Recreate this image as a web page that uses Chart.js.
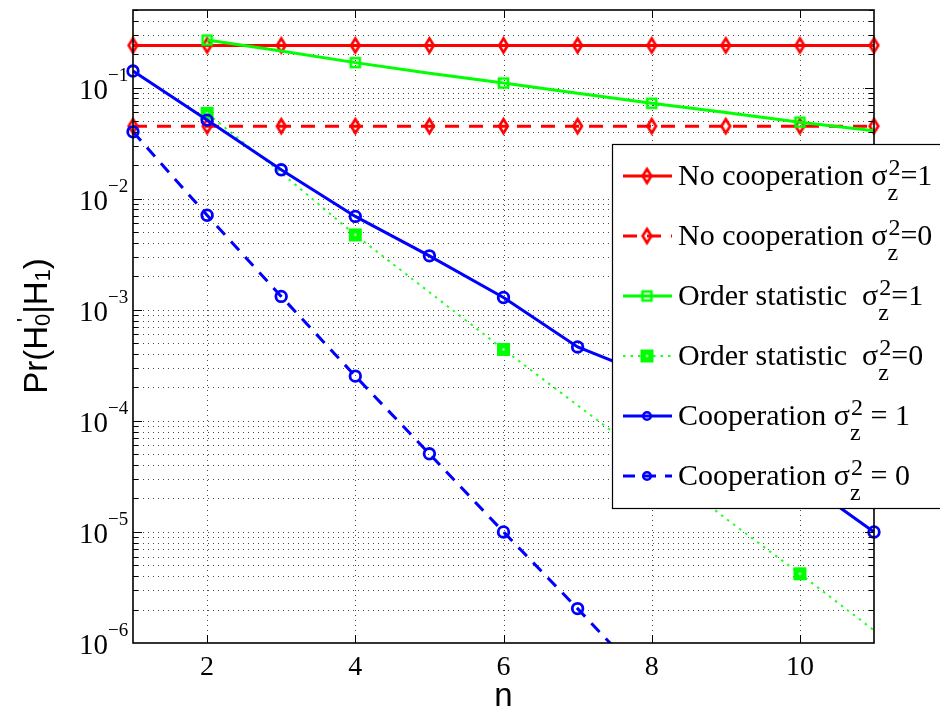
<!DOCTYPE html>
<html><head><meta charset="utf-8">
<script src="https://cdn.jsdelivr.net/npm/chart.js@4/dist/chart.umd.min.js"></script>
<style>html,body{margin:0;padding:0;background:#fff}#wrap{width:940px;height:715px;position:relative}</style>
</head><body><div id="wrap"><canvas id="c"></canvas></div>
<script>
// ---------------- data ----------------
const nValues = [1, 2, 3, 4, 5, 6, 7, 8, 9, 10, 11];
const noCoop1 = [0.24, 0.24, 0.24, 0.24, 0.24, 0.24, 0.24, 0.24, 0.24, 0.24, 0.24];
const noCoop0 = [0.045, 0.045, 0.045, 0.045, 0.045, 0.045, 0.045, 0.045, 0.045, 0.045, 0.045];
const order1 = [null, 0.268, 0.214, 0.168, 0.135, 0.110, 0.089, 0.0723, 0.0596, 0.0489, 0.041];
const order0 = [null, 0.0588, 0.0171, 0.00472, 0.00144, 0.00044, 0.000138, 0.0000435, 0.0000132, 0.0000042, 0.0000013];
const coop1 = [0.141, 0.051, 0.0182, 0.00693, 0.00306, 0.00129, 0.000463, 0.00025, 0.0001, 0.00003, 0.00001];
const coop0 = [0.040, 0.0071, 0.00132, 0.000253, 0.0000505, 0.00001, 0.00000204, 0.0000004, null, null, null];
const xTickLabels = [2, 4, 6, 8, 10];
const yDecadeExponents = [-6, -5, -4, -3, -2, -1];
const legendLabels = [
  ['No cooperation ', '=1'],
  ['No cooperation ', '=0'],
  ['Order statistic  ', '=1'],
  ['Order statistic  ', '=0'],
  ['Cooperation ', ' = 1'],
  ['Cooperation ', ' = 0']
];
const xTitle = 'n';

// ---------------- markers ----------------
function makeDiamond(color, hw, hh, lw) {
  const pad = Math.ceil(lw) + 1;
  const c = document.createElement('canvas');
  c.width = Math.round(2 * hw + 2 * pad); c.height = Math.round(2 * hh + 2 * pad);
  const g = c.getContext('2d');
  g.strokeStyle = color; g.lineWidth = lw; g.lineJoin = 'miter';
  g.beginPath();
  g.moveTo(c.width / 2, c.height / 2 - hh); g.lineTo(c.width / 2 + hw, c.height / 2);
  g.lineTo(c.width / 2, c.height / 2 + hh); g.lineTo(c.width / 2 - hw, c.height / 2);
  g.closePath(); g.stroke();
  return c;
}
function makeSquare(color, side, lw, filled) {
  const pad = Math.ceil(lw) + 1;
  const c = document.createElement('canvas');
  c.width = c.height = Math.round(side + 2 * pad);
  const g = c.getContext('2d');
  const o = (c.width - side) / 2;
  if (filled) {
    g.fillStyle = color; g.fillRect(o, o, side, side);
    g.fillStyle = '#fff'; g.fillRect(c.width / 2 - 1, c.height / 2 - 1, 2, 2);
  } else {
    g.strokeStyle = color; g.lineWidth = lw; g.strokeRect(o, o, side, side);
  }
  return c;
}
const diamondRed = makeDiamond('#ff0000', 4.3, 7, 2.7);
const squareOpen = makeSquare('#00ff00', 9, 2.6, false);
const squareFill = makeSquare('#00ff00', 13, 0, true);

const evenOnly = r => (ctx => (ctx.raw && ctx.raw.x % 2 === 0 ? r : 0));
const toXY = arr => nValues.map((n, i) => ({x: n, y: arr[i]}));

const datasets = [
  {label: 'No cooperation σz2=1', data: toXY(noCoop1), borderColor: '#ff0000', borderWidth: 3,
   pointStyle: diamondRed, pointRadius: 7, order: 6, clip: false},
  {label: 'No cooperation σz2=0', data: toXY(noCoop0), borderColor: '#ff0000', borderWidth: 3, borderDash: [14, 10],
   pointStyle: diamondRed, pointRadius: 7, order: 5, clip: false},
  {label: 'Order statistic σz2=1', data: toXY(order1), borderColor: '#00ff00', borderWidth: 3,
   pointStyle: squareOpen, pointRadius: evenOnly(6), order: 4, clip: false},
  {label: 'Order statistic σz2=0', data: toXY(order0), borderColor: '#22ff22', borderWidth: 2, borderDash: [2.5, 5],
   pointStyle: squareFill, pointRadius: evenOnly(7), order: 3, clip: {left: 10, top: 10, right: 10, bottom: 0}},
  {label: 'Cooperation σz2=1', data: toXY(coop1), borderColor: '#0000ff', borderWidth: 3,
   pointStyle: 'circle', pointRadius: 5.3, pointBorderWidth: 2.8, pointBackgroundColor: 'rgba(0,0,0,0)', order: 2, clip: false},
  {label: 'Cooperation σz2=0', data: toXY(coop0), borderColor: '#0000ff', borderWidth: 3, borderDash: [12, 9],
   pointStyle: 'circle', pointRadius: 5.3, pointBorderWidth: 2.8, pointBackgroundColor: 'rgba(0,0,0,0)', order: 1,
   clip: {left: 10, top: 10, right: 10, bottom: 0}}
];
datasets.forEach(d => { d.fill = false; d.tension = 0; d.spanGaps = false; d.pointBorderColor = d.borderColor;
  if (!d.pointBackgroundColor) d.pointBackgroundColor = 'rgba(0,0,0,0)'; d.pointHoverRadius = d.pointRadius; });

// ---------------- drawing helpers ----------------
const SERIF = '"Liberation Serif", "Times New Roman", serif';
const SANS = '"Liberation Sans", Arial, sans-serif';

const yGridValues = [];
yDecadeExponents.forEach(e => { for (let m = 1; m <= 9; m++) yGridValues.push(m * Math.pow(10, e)); });

const matlabPlugin = {
  id: 'matlab',
  beforeDraw(chart) {
    const ctx = chart.ctx;
    ctx.save(); ctx.fillStyle = '#fff'; ctx.fillRect(0, 0, chart.width, chart.height); ctx.restore();
  },
  beforeDatasetsDraw(chart) {
    const {ctx, chartArea: a, scales: {x, y}} = chart;
    ctx.save();
    ctx.strokeStyle = 'rgba(40,40,40,0.85)'; ctx.lineWidth = 1; ctx.setLineDash([1, 4]);
    yGridValues.forEach(v => {
      const py = Math.round(y.getPixelForValue(v)) + 0.5;
      if (py <= a.top + 1 || py >= a.bottom - 1) return;
      ctx.beginPath(); ctx.moveTo(a.left, py); ctx.lineTo(a.right, py); ctx.stroke();
    });
    xTickLabels.forEach(v => {
      const px = Math.round(x.getPixelForValue(v)) + 0.5;
      ctx.beginPath(); ctx.moveTo(px, a.top); ctx.lineTo(px, a.bottom); ctx.stroke();
    });
    ctx.restore();
  },
  afterDatasetsDraw(chart) {
    const {ctx, chartArea: a, scales: {x, y}} = chart;
    ctx.save();
    ctx.strokeStyle = '#000'; ctx.lineWidth = 1.6; ctx.setLineDash([]);
    ctx.strokeRect(a.left, a.top, a.right - a.left, a.bottom - a.top);
    ctx.lineWidth = 1;
    yGridValues.forEach(v => {
      const py = Math.round(y.getPixelForValue(v)) + 0.5;
      if (py < a.top || py > a.bottom) return;
      const major = Math.abs(Math.log10(v) - Math.round(Math.log10(v))) < 1e-9;
      const len = major ? 9 : 5;
      ctx.beginPath();
      ctx.moveTo(a.left, py); ctx.lineTo(a.left + len, py);
      ctx.moveTo(a.right, py); ctx.lineTo(a.right - len, py);
      ctx.stroke();
    });
    xTickLabels.forEach(v => {
      const px = Math.round(x.getPixelForValue(v)) + 0.5;
      ctx.beginPath();
      ctx.moveTo(px, a.bottom); ctx.lineTo(px, a.bottom - 8);
      ctx.moveTo(px, a.top); ctx.lineTo(px, a.top + 8);
      ctx.stroke();
    });
    ctx.fillStyle = '#000';
    yDecadeExponents.forEach(e => {
      const py = y.getPixelForValue(Math.pow(10, e));
      ctx.font = '29px ' + SERIF; ctx.textAlign = 'right'; ctx.textBaseline = 'alphabetic';
      ctx.fillText('10', a.left - 25, py + 11);
      ctx.font = '19px ' + SERIF; ctx.textAlign = 'left';
      ctx.fillText('\u2212' + Math.abs(e), a.left - 25, py - 7);
    });
    ctx.font = '28px ' + SERIF; ctx.textAlign = 'center';
    xTickLabels.forEach(v => {
      ctx.fillText(String(v), x.getPixelForValue(v), a.bottom + 32);
    });
    ctx.font = '33px ' + SANS;
    ctx.fillText(xTitle, (a.left + a.right) / 2, a.bottom + 63);
    const parts = [
      ['Pr(H', 33, 0, true], ["'", 22, -15, false], ['0', 22, 3, true],
      ['|H', 33, 0, true], ['1', 22, 3, true], [')', 33, 0, true]
    ];
    let total = 0;
    const widths = parts.map(p => { ctx.font = p[1] + 'px ' + SANS; return ctx.measureText(p[0]).width; });
    parts.forEach((p, i) => { if (p[3]) total += widths[i]; });
    ctx.translate(47, 326); ctx.rotate(-Math.PI / 2);
    ctx.textAlign = 'left';
    let cx = -total / 2;
    parts.forEach((p, i) => {
      ctx.font = p[1] + 'px ' + SANS;
      ctx.fillText(p[0], cx + (p[0] === "'" ? 4 : 0), p[2]);
      if (p[3]) cx += widths[i];
    });
    ctx.restore();
  },
  afterDraw(chart) {
    const ctx = chart.ctx;
    ctx.save();
    const bx = 612.5, by = 144.5, bw = 340, bh = 364;
    ctx.fillStyle = '#fff'; ctx.fillRect(bx, by, bw, bh);
    ctx.strokeStyle = '#000'; ctx.lineWidth = 1.2; ctx.strokeRect(bx, by, bw, bh);
    chart.data.datasets.forEach((d, i) => {
      const cy = 176 + 60 * i;
      ctx.save();
      ctx.strokeStyle = d.borderColor; ctx.lineWidth = d.borderWidth;
      ctx.setLineDash(d.borderDash || []);
      ctx.beginPath(); ctx.moveTo(623, cy); ctx.lineTo(672, cy); ctx.stroke();
      ctx.setLineDash([]);
      const ps = d.pointStyle;
      if (typeof ps === 'object') {
        ctx.drawImage(ps, 647 - ps.width / 2, cy - ps.height / 2);
      } else {
        ctx.lineWidth = 2.6; ctx.beginPath(); ctx.arc(647, cy, 3.8, 0, Math.PI * 2); ctx.stroke();
      }
      ctx.restore();
      ctx.fillStyle = '#000'; ctx.textAlign = 'left'; ctx.textBaseline = 'alphabetic';
      const base = cy + 9;
      let tx = 678;
      ctx.font = '30px ' + SERIF;
      ctx.fillText(legendLabels[i][0], tx, base); tx += ctx.measureText(legendLabels[i][0]).width;
      ctx.fillText('\u03c3', tx, base); tx += ctx.measureText('\u03c3').width + 1;
      ctx.font = '24px ' + SERIF;
      ctx.fillText('2', tx, base - 10);
      const w2 = ctx.measureText('2').width;
      ctx.fillText('z', tx - 1, base + 15);
      const wz = ctx.measureText('z').width;
      tx += Math.max(w2, wz - 1);
      ctx.font = '30px ' + SERIF;
      ctx.fillText(legendLabels[i][1], tx, base);
    });
    ctx.restore();
  }
};

new Chart(document.getElementById('c'), {
  type: 'line',
  data: {datasets},
  options: {
    responsive: true, maintainAspectRatio: false, devicePixelRatio: 1, animation: false,
    events: [],
    layout: {padding: {left: 133, right: 66, top: 8, bottom: 72}},
    plugins: {legend: {display: false}, tooltip: {enabled: false}, title: {display: false}},
    scales: {
      x: {type: 'linear', min: 1, max: 11, display: false},
      y: {type: 'logarithmic', min: 1e-6, max: 0.5, display: false}
    }
  },
  plugins: [matlabPlugin]
});
</script>
</body></html>
